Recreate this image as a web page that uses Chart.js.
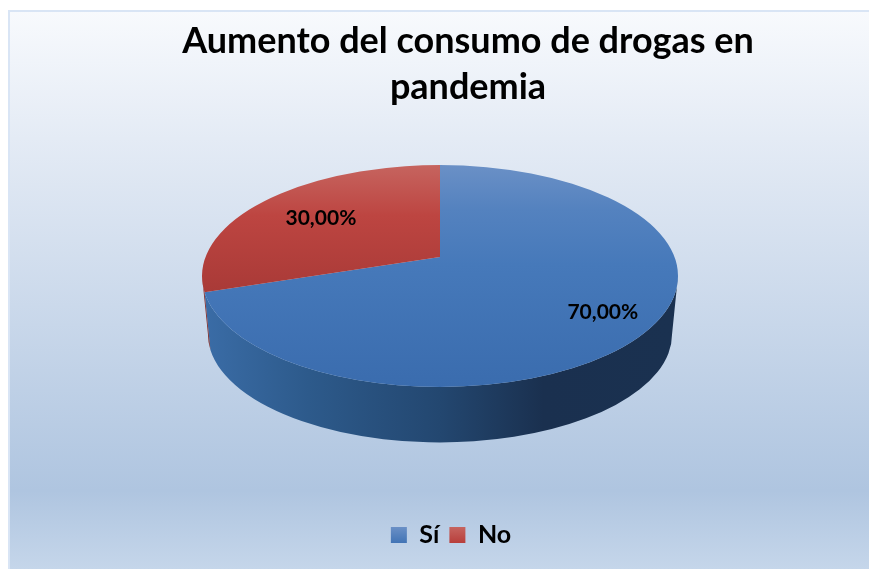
<!DOCTYPE html>
<html>
<head>
<meta charset="utf-8">
<title>Aumento del consumo de drogas en pandemia</title>
<script src="https://cdn.jsdelivr.net/npm/chart.js@4"></script>
<style>
    html, body { margin: 0; padding: 0; background: #fff; }
    #pieChart { display: block; }
</style>
</head>
<body>
<canvas id="pieChart" width="869" height="569"></canvas>
<script>
// ----------- Data -----------
const categories = ['Sí', 'No'];
const percentages = [70, 30];
const titleLines = ['Aumento del consumo de drogas en', 'pandemia'];

// ----------- Pie look -----------
const FONT = 'Lato, "Open Sans", sans-serif';
const CENTER_X = 440, CENTER_Y = 276;
const TITLE_CENTER_X = 468, LEGEND_CENTER_X = 451, LEGEND_CENTER_Y = 535;
const SQUASH = 111 / 238;     // ellipse height / width of the top face
const APEX_SHIFT = -0.171;    // the centre of the pie sits higher due to perspective
const DEPTH = 61;             // distance between top and bottom ellipse centres
const BOTTOM_SCALE = 0.975;   // bottom rim is a little smaller than the top one
const labelRadius = [0.79, 0.67];

const canvas = document.getElementById('pieChart');
const ctx = canvas.getContext('2d');

function vGradient(y0, y1, stops) {
    const g = ctx.createLinearGradient(0, y0, 0, y1);
    stops.forEach(s => g.addColorStop(s[0], s[1]));
    return g;
}

function hGradient(x0, x1, stops) {
    const g = ctx.createLinearGradient(x0, 0, x1, 0);
    stops.forEach(s => g.addColorStop(s[0], s[1]));
    return g;
}

const topFills = [
    vGradient(165, 387, [[0, '#6a90c6'], [0.2, '#5482bf'], [0.45, '#4679ba'], [1, '#3a6cae']]),
    vGradient(165, 292, [[0, '#c6645f'], [0.4, '#bd4541'], [1, '#a93a37']])
];
const sideFills = [
    hGradient(205, 675, [[0, '#3a6ca6'], [0.22, '#2d5a8b'], [0.5, '#234770'], [0.72, '#1a304f'], [1, '#1a3150']]),
    hGradient(201, 210, [[0, '#8f3431'], [1, '#7a2b29']])
];
const legendFills = [
    vGradient(527, 544, [[0, '#6a90c6'], [1, '#3f72b4']]),
    vGradient(527, 544, [[0, '#c6645f'], [1, '#b73c39']])
];

// Maps a point of the flat unit disc onto the tilted top face.
function project(u, v) {
    const den = 1 + APEX_SHIFT * v;
    return {
        x: u * Math.sqrt(1 - APEX_SHIFT * APEX_SHIFT) / den,
        y: (v + APEX_SHIFT) / den
    };
}

// Ellipse parameter for a slice boundary, kept on the same turn as the angle.
function rimAngle(theta) {
    const p = project(Math.cos(theta), Math.sin(theta));
    let phi = Math.atan2(p.y, p.x);
    while (phi < theta - Math.PI) phi += 2 * Math.PI;
    while (phi > theta + Math.PI) phi -= 2 * Math.PI;
    return phi;
}

// ----------- 3D pie plugin -----------
const pie3d = {
    id: 'pie3d',
    beforeDraw(chart) {
        const c = chart.ctx;
        c.save();
        c.fillStyle = vGradient(10, 569, [[0, '#f8fafd'], [0.23, '#e4ebf5'], [0.86, '#afc5e0'], [1, '#c5d6ea']]);
        c.fillRect(9, 11, 860, 558);
        c.strokeStyle = '#d9e5f5';
        c.lineWidth = 2;
        c.beginPath();
        c.moveTo(9, 569);
        c.lineTo(9, 11);
        c.lineTo(869, 11);
        c.stroke();
        c.restore();
    },
    // Slices move out of the way of the layout boxes here, before they get their geometry
    afterLayout(chart) {
        const area = chart.chartArea;
        area.left = CENTER_X - 238;
        area.right = CENTER_X + 238;
        area.top = CENTER_Y - 238;
        area.bottom = CENTER_Y + 238;
        area.width = 476;
        area.height = 476;

        const title = chart.titleBlock;
        const titleShift = TITLE_CENTER_X - (title.left + title.right) / 2;
        title.left += titleShift;
        title.right += titleShift;
        const titleHeight = title.height;
        title.top = 19;
        title.bottom = 19 + titleHeight;

        const legend = chart.legend;
        const legendShift = LEGEND_CENTER_X - (legend.left + legend.right) / 2;
        legend.left += legendShift;
        legend.right += legendShift;
        const legendHeight = legend.height;
        legend.top = LEGEND_CENTER_Y - legendHeight / 2;
        legend.bottom = legend.top + legendHeight;
    },
    beforeDatasetDraw(chart, args) {
        const c = chart.ctx;
        const arcs = args.meta.data;

        arcs.forEach((arc, i) => {
            const rx = arc.outerRadius, ry = rx * SQUASH;
            const from = Math.max(rimAngle(arc.startAngle), 0);
            const to = Math.min(rimAngle(arc.endAngle), Math.PI);
            if (to <= from) return;
            const brx = rx * BOTTOM_SCALE, bry = ry * BOTTOM_SCALE;
            const by = arc.y + DEPTH - (ry - bry);
            c.beginPath();
            c.ellipse(arc.x, arc.y, rx, ry, 0, from, to);
            c.ellipse(arc.x, by, brx, bry, 0, to, from, true);
            c.closePath();
            c.fillStyle = sideFills[i];
            c.fill();
        });

        arcs.forEach((arc, i) => {
            const rx = arc.outerRadius, ry = rx * SQUASH;
            const apexY = arc.y + APEX_SHIFT * ry;
            c.beginPath();
            c.moveTo(arc.x, apexY);
            c.ellipse(arc.x, arc.y, rx, ry, 0, rimAngle(arc.startAngle), rimAngle(arc.endAngle));
            c.closePath();
            c.fillStyle = topFills[i];
            c.fill();
        });

        return false;
    },
    afterDatasetsDraw(chart) {
        const c = chart.ctx;
        const arcs = chart.getDatasetMeta(0).data;
        c.save();
        c.font = 'bold 21px ' + FONT;
        c.fillStyle = '#000';
        c.textAlign = 'center';
        c.textBaseline = 'middle';
        arcs.forEach((arc, i) => {
            const mid = (arc.startAngle + arc.endAngle) / 2;
            const p = project(labelRadius[i] * Math.cos(mid), labelRadius[i] * Math.sin(mid));
            const text = percentages[i].toFixed(2).replace('.', ',') + '%';
            c.fillText(text, arc.x + p.x * arc.outerRadius, arc.y + p.y * arc.outerRadius * SQUASH + 1);
        });
        c.restore();
    }
};

new Chart(ctx, {
    type: 'pie',
    data: {
        labels: categories,
        datasets: [{
            data: percentages,
            backgroundColor: legendFills,
            borderWidth: 0
        }]
    },
    options: {
        responsive: false,
        animation: false,
        events: [],
        plugins: {
            title: {
                display: true,
                text: titleLines,
                color: '#000',
                font: { family: FONT, size: 36, weight: 'bold', lineHeight: 1.27 },
                padding: 0
            },
            legend: {
                position: 'bottom',
                labels: {
                    color: '#000',
                    font: { family: FONT, size: 25, weight: 'bold' },
                    boxWidth: 16,
                    boxHeight: 16,
                    padding: 10
                }
            },
            tooltip: { enabled: false }
        }
    },
    plugins: [pie3d]
});
</script>
</body>
</html>
